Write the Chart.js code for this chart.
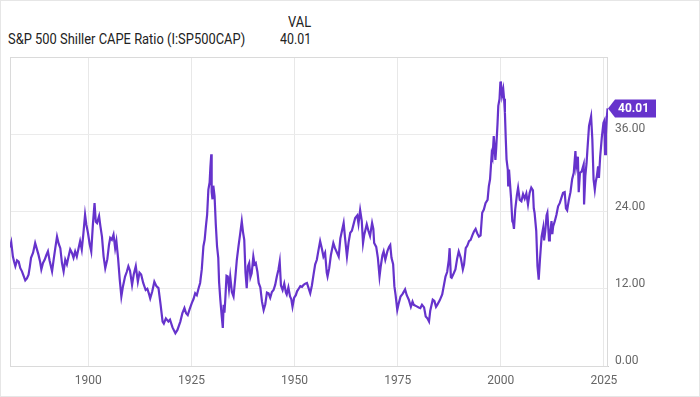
<!DOCTYPE html>
<html>
<head>
<meta charset="utf-8">
<script src="https://cdn.jsdelivr.net/npm/chart.js@4.4.1/dist/chart.umd.min.js"></script>
<style>
  body { margin: 0; background: #fff; font-family: Roboto, sans-serif; }
  #wrap { position: relative; width: 700px; height: 397px; overflow: hidden; }
  #border { position: absolute; left: 0; top: 0; width: 700px; height: 397px; box-sizing: border-box; border: 1px solid #e6e6e6; pointer-events: none; }
  .hd { position: absolute; font-size: 14px; color: #222; white-space: nowrap; line-height: 16px; }
  #title { left: 8px; top: 31px; transform-origin: left center; }
  #valHead { right: 389px; top: 14px; transform-origin: right center; }
  #valNum { right: 389px; top: 31px; transform-origin: right center; }
  canvas { position: absolute; left: 0; top: 0; }
</style>
</head>
<body>
<div id="wrap">
  <div class="hd" id="valHead">VAL</div>
  <div class="hd" id="title">S&amp;P 500 Shiller CAPE Ratio (I:SP500CAP)</div>
  <div class="hd" id="valNum">40.01</div>
  <canvas id="chart" width="700" height="397"></canvas>
  <div id="border"></div>
</div>
<script>
// Shiller CAPE (decimal year, ratio)
const years = [
  1881.0, 1881.3, 1881.7, 1882.0, 1882.3, 1882.7, 1883.1, 1883.5, 1883.9, 1884.3,
  1884.7, 1885.1, 1885.5, 1885.8, 1886.1, 1886.6, 1887.1, 1887.5, 1887.9, 1888.3,
  1888.6, 1889.0, 1889.4, 1889.8, 1890.2, 1890.6, 1891.2, 1891.6, 1892.0, 1892.4,
  1892.8, 1893.2, 1893.6, 1894.0, 1894.4, 1894.8, 1895.2, 1895.6, 1896.0, 1896.4,
  1896.8, 1897.2, 1897.6, 1898.0, 1898.4, 1898.8, 1899.2, 1899.5, 1899.9, 1900.3,
  1900.7, 1901.1, 1901.5, 1901.8, 1902.1, 1902.6, 1902.9, 1903.3, 1903.7, 1904.1,
  1904.6, 1905.0, 1905.3, 1905.7, 1906.1, 1906.5, 1906.8, 1907.2, 1907.6, 1908.0,
  1908.4, 1908.9, 1909.3, 1909.7, 1910.1, 1910.6, 1911.0, 1911.5, 1912.0, 1912.4,
  1912.8, 1913.3, 1913.9, 1914.3, 1914.7, 1915.0, 1915.5, 1916.0, 1916.5, 1917.0,
  1917.5, 1918.0, 1918.3, 1918.8, 1919.4, 1919.8, 1920.4, 1921.1, 1921.6, 1922.3,
  1922.8, 1923.3, 1923.7, 1924.1, 1924.6, 1925.1, 1925.5, 1925.9, 1926.3, 1926.7,
  1927.1, 1927.5, 1927.9, 1928.2, 1928.5, 1928.8, 1929.1, 1929.4, 1929.6, 1929.8,
  1929.9, 1930.1, 1930.3, 1930.6, 1930.9, 1931.2, 1931.5, 1931.7, 1932.0, 1932.3,
  1932.6, 1932.8, 1933.0, 1933.2, 1933.5, 1933.8, 1934.1, 1934.4, 1934.8, 1935.2,
  1935.6, 1936.0, 1936.4, 1936.8, 1937.2, 1937.5, 1937.8, 1938.1, 1938.4, 1938.7,
  1939.0, 1939.3, 1939.6, 1940.0, 1940.3, 1940.6, 1941.0, 1941.3, 1941.7, 1942.1,
  1942.5, 1942.9, 1943.3, 1943.7, 1944.1, 1944.5, 1944.9, 1945.3, 1945.7, 1946.1,
  1946.4, 1946.7, 1947.1, 1947.5, 1947.9, 1948.1, 1948.5, 1948.9, 1949.2, 1949.5,
  1949.9, 1950.3, 1950.6, 1951.0, 1951.4, 1951.8, 1952.2, 1952.6, 1953.0, 1953.4,
  1953.8, 1954.2, 1954.6, 1955.0, 1955.4, 1955.8, 1956.2, 1956.6, 1957.0, 1957.4,
  1957.8, 1958.0, 1958.4, 1958.8, 1959.4, 1959.8, 1960.3, 1960.7, 1961.1, 1961.5,
  1961.9, 1962.3, 1962.7, 1963.1, 1963.5, 1963.9, 1964.3, 1964.7, 1965.2, 1965.5,
  1965.9, 1966.3, 1966.6, 1966.9, 1967.5, 1967.9, 1968.3, 1968.8, 1969.1, 1969.3,
  1969.8, 1970.2, 1970.6, 1970.9, 1971.3, 1971.6, 1972.0, 1972.5, 1972.9, 1973.2,
  1973.5, 1973.9, 1974.2, 1974.5, 1974.9, 1975.2, 1975.7, 1976.2, 1976.8, 1977.2,
  1977.7, 1978.2, 1978.6, 1978.9, 1979.5, 1980.1, 1980.5, 1980.9, 1981.4, 1981.8,
  1982.2, 1982.6, 1982.9, 1983.5, 1983.9, 1984.3, 1984.6, 1985.2, 1985.8, 1986.2,
  1986.6, 1987.0, 1987.4, 1987.6, 1987.9, 1988.1, 1988.6, 1989.0, 1989.4, 1989.8,
  1990.3, 1990.8, 1991.1, 1991.5, 1991.9, 1992.3, 1992.7, 1993.1, 1993.5, 1993.9,
  1994.3, 1994.7, 1995.1, 1995.5, 1995.9, 1996.3, 1996.8, 1997.1, 1997.4, 1997.8,
  1998.0, 1998.3, 1998.7, 1998.9, 1999.2, 1999.4, 1999.7, 1999.9, 2000.0, 2000.3,
  2000.6, 2000.8, 2001.0, 2001.2, 2001.4, 2001.7, 2001.8, 2002.0, 2002.2, 2002.5,
  2002.8, 2003.0, 2003.2, 2003.5, 2003.9, 2004.2, 2004.6, 2005.0, 2005.4, 2005.8,
  2006.2, 2006.6, 2007.0, 2007.4, 2007.8, 2008.0, 2008.2, 2008.6, 2008.9, 2009.2,
  2009.5, 2009.9, 2010.3, 2010.5, 2010.8, 2011.1, 2011.3, 2011.7, 2011.9, 2012.3,
  2012.5, 2012.7, 2013.1, 2013.5, 2013.9, 2014.3, 2014.8, 2015.1, 2015.5, 2015.8,
  2016.1, 2016.5, 2016.9, 2017.3, 2017.7, 2018.1, 2018.3, 2018.7, 2018.9, 2019.2,
  2019.6, 2020.1, 2020.2, 2020.5, 2020.8, 2021.0, 2021.4, 2021.9, 2022.2, 2022.5,
  2022.8, 2023.0, 2023.3, 2023.6, 2023.8, 2024.1, 2024.5, 2024.9, 2025.1, 2025.3,
  2025.5, 2025.7, 2025.9
];
const cape = [
  18.4, 19.2, 17.0, 16.2, 15.5, 16.4, 16.2, 15.2, 14.7, 14.0,
  13.3, 13.6, 14.2, 15.4, 16.8, 17.6, 19.1, 18.2, 17.3, 16.2,
  15.0, 16.0, 16.5, 17.2, 17.8, 16.4, 14.7, 16.6, 18.4, 20.1,
  19.0, 18.3, 16.0, 14.7, 16.5, 15.8, 17.0, 18.1, 17.6, 16.8,
  17.8, 17.0, 18.2, 19.4, 18.1, 20.6, 23.5, 22.0, 20.7, 19.0,
  17.8, 22.0, 25.3, 22.4, 22.2, 23.3, 21.8, 20.1, 17.0, 15.2,
  16.6, 18.8, 19.9, 19.6, 20.4, 18.3, 19.4, 16.8, 13.5, 10.8,
  12.4, 13.9, 14.6, 15.5, 14.8, 12.6, 14.2, 15.5, 13.1, 14.5,
  14.2, 12.9, 11.8, 12.0, 11.2, 10.5, 11.6, 13.1, 12.4, 12.1,
  9.6, 6.9, 6.6, 7.4, 6.9, 7.2, 6.0, 5.1, 5.6, 6.9,
  8.2, 9.0, 8.2, 7.9, 8.9, 9.8, 10.4, 11.3, 11.0, 12.0,
  12.9, 15.0, 18.6, 19.6, 21.7, 23.5, 27.4, 28.5, 31.0, 32.9,
  27.0, 25.9, 28.0, 26.4, 22.0, 18.6, 16.8, 13.0, 10.3, 8.0,
  5.9, 9.5, 8.3, 10.3, 14.0, 13.9, 12.0, 13.9, 11.5, 10.8,
  13.5, 16.5, 18.6, 20.5, 22.5, 20.8, 19.6, 14.5, 12.1, 15.5,
  16.0, 13.8, 14.4, 17.0, 15.8, 16.0, 14.6, 12.9, 12.2, 10.0,
  8.7, 9.6, 11.4, 11.3, 10.6, 11.5, 11.8, 12.6, 13.9, 15.0,
  16.2, 12.5, 11.8, 12.8, 11.4, 11.1, 12.2, 10.8, 10.4, 9.2,
  10.6, 11.0, 11.6, 12.0, 12.4, 12.3, 12.6, 12.8, 12.9, 12.1,
  11.3, 12.5, 14.2, 15.8, 16.5, 18.0, 19.4, 18.3, 17.0, 17.6,
  14.5, 13.9, 15.2, 17.2, 19.1, 18.3, 17.6, 17.0, 19.8, 21.0,
  22.2, 19.5, 17.0, 19.2, 20.7, 21.0, 22.0, 23.0, 23.4, 22.1,
  24.2, 22.5, 19.1, 20.4, 22.0, 21.0, 20.2, 22.2, 21.3, 19.1,
  18.5, 16.8, 13.9, 15.5, 17.2, 17.8, 16.5, 17.8, 18.5, 18.8,
  16.8, 15.8, 12.4, 11.0, 8.7, 9.6, 10.8, 11.2, 11.9, 11.0,
  10.3, 9.2, 10.0, 9.5, 9.3, 9.1, 9.0, 9.5, 9.1, 7.7,
  7.4, 6.9, 8.6, 10.3, 10.1, 9.2, 9.5, 10.2, 11.1, 12.5,
  13.9, 14.6, 16.5, 18.3, 13.8, 13.7, 14.4, 15.0, 16.6, 17.8,
  16.8, 15.0, 15.8, 18.3, 18.7, 19.4, 19.6, 20.3, 20.9, 21.3,
  20.6, 20.1, 20.3, 23.8, 24.3, 25.3, 25.8, 27.9, 29.0, 32.9,
  32.4, 35.7, 32.0, 33.9, 37.5, 40.4, 41.5, 44.0, 44.2, 42.0,
  43.0, 41.5, 39.4, 35.5, 32.1, 30.5, 27.9, 30.5, 30.5, 26.0,
  22.5, 22.2, 21.3, 24.3, 26.5, 27.7, 25.8, 25.6, 26.7, 26.0,
  26.8, 25.1, 26.9, 27.7, 27.3, 24.5, 23.8, 21.0, 15.5, 13.4,
  16.5, 20.1, 21.5, 19.5, 21.0, 23.4, 23.8, 19.5, 20.1, 22.5,
  20.5, 21.7, 22.5, 23.5, 24.8, 25.3, 26.3, 26.9, 27.0, 24.5,
  24.2, 25.8, 27.0, 29.0, 30.0, 33.4, 31.0, 32.5, 27.0, 30.0,
  30.2, 31.3, 25.1, 29.5, 31.5, 33.5, 37.3, 38.8, 35.2, 29.0,
  27.4, 28.5, 29.5, 31.0, 29.2, 32.5, 35.5, 37.8, 38.1, 32.9,
  36.0, 38.5, 40.01
];
const xTicks = [1900, 1925, 1950, 1975, 2000, 2025];
const yTicks = [0, 12, 24, 36];

const purple = '#6633cc';

// squeeze the header text a little, the original uses a narrow face
function squeeze(id, target) {
  const el = document.getElementById(id);
  el.style.transform = 'scaleX(' + (target / el.offsetWidth) + ')';
}
squeeze('title', 237);
squeeze('valHead', 23);
squeeze('valNum', 31);

const framePlugin = {
  id: 'frame',
  beforeDatasetsDraw(chart) {
    const ctx = chart.ctx, a = chart.chartArea;
    ctx.save();
    ctx.strokeStyle = '#dadada';
    ctx.lineWidth = 1;
    ctx.strokeRect(a.left + 0.5, a.top + 0.5, a.right - a.left - 1, a.bottom - a.top);
    ctx.restore();
  },
  afterDraw(chart) {
    // last value tag on the right axis
    const ctx = chart.ctx, a = chart.chartArea;
    const last = cape[cape.length - 1];
    const y = chart.scales.y.getPixelForValue(last);
    const x = a.right;
    ctx.save();
    ctx.fillStyle = purple;
    ctx.beginPath();
    ctx.moveTo(x, y);
    ctx.lineTo(x + 7, y - 9);
    ctx.lineTo(x + 48, y - 9);
    ctx.lineTo(x + 48, y + 9);
    ctx.lineTo(x + 7, y + 9);
    ctx.closePath();
    ctx.fill();
    ctx.fillStyle = '#fff';
    ctx.font = 'bold 12px Roboto';
    ctx.textBaseline = 'middle';
    ctx.fillText(last.toFixed(2), x + 10, y + 1);
    ctx.restore();
  }
};

new Chart(document.getElementById('chart'), {
  type: 'line',
  data: {
    datasets: [{
      data: years.map((yr, i) => ({ x: yr, y: cape[i] })),
      borderColor: purple,
      borderWidth: 2.2,
      pointRadius: 0,
      tension: 0,
      fill: false
    }]
  },
  options: {
    responsive: false,
    animation: false,
    layout: { padding: { top: 57, left: 10, right: 0, bottom: 0 } },
    plugins: { legend: { display: false }, tooltip: { enabled: false } },
    scales: {
      x: {
        type: 'linear',
        min: 1881,
        max: 2026,
        afterBuildTicks: s => { s.ticks = xTicks.map(v => ({ value: v })); },
        afterFit: s => { s.height = 31; },
        grid: { color: '#e8e8e8', drawTicks: false },
        border: { color: '#cfcfcf' },
        ticks: { color: '#666', font: { family: 'Roboto', size: 12 }, padding: 8, callback: v => String(v) }
      },
      y: {
        position: 'right',
        min: 0,
        max: 48,
        afterBuildTicks: s => { s.ticks = yTicks.map(v => ({ value: v })); },
        afterFit: s => { s.width = 92; },
        grid: { color: '#ebebeb', drawTicks: false },
        border: { display: false },
        ticks: { color: '#666', font: { family: 'Roboto', size: 12 }, padding: 7, labelOffset: -5, callback: v => v.toFixed(2) }
      }
    }
  },
  plugins: [framePlugin]
});
</script>
</body>
</html>
